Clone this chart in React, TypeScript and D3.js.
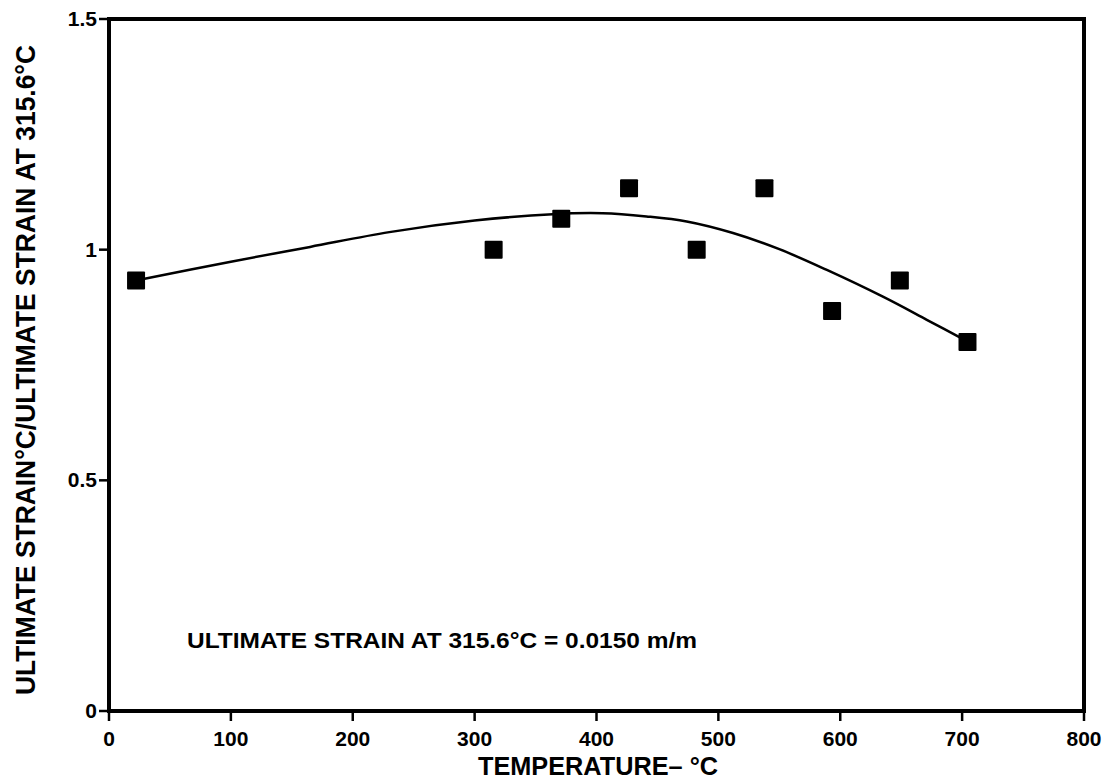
import React from "react";
import * as d3 from "d3";

const temps = [22.2, 315.6, 371.1, 426.7, 482.2, 537.8, 593.3, 648.9, 704.4];
const ratios = [0.933, 1.0, 1.067, 1.133, 1.0, 1.133, 0.867, 0.933, 0.8];

const fitX = [22, 100, 165, 230, 300, 364, 405, 441, 474, 512, 550, 589, 635, 671, 705];
const fitY = [0.933, 0.974, 1.006, 1.038, 1.063, 1.077, 1.079, 1.072, 1.061, 1.036, 1.001, 0.956, 0.898, 0.848, 0.8];

const xTicks = [0, 100, 200, 300, 400, 500, 600, 700, 800];
const yTicks = [0, 0.5, 1, 1.5];
const yTickLabels = ["0", "0.5", "1", "1.5"];

const font = "'Liberation Sans', Arial, sans-serif";

export default function App() {
  const W = 1113, H = 784;
  const x = d3.scaleLinear().domain([0, 800]).range([109, 1084]);
  const y = d3.scaleLinear().domain([0, 1.5]).range([711, 19]);
  const line = d3
    .line<[number, number]>()
    .x((d) => x(d[0]))
    .y((d) => y(d[1]))
    .curve(d3.curveCatmullRom.alpha(0.5));
  const fitPts: [number, number][] = fitX.map((v, i) => [v, fitY[i]]);
  const sq = 18;
  return (
    <svg width={W} height={H} style={{ position: "absolute", left: 0, top: 0, background: "#fff" }}>
      <rect x={0} y={0} width={W} height={H} fill="#fff" />
      {/* frame */}
      <rect x={x(0)} y={y(1.5)} width={x(800) - x(0)} height={y(0) - y(1.5)} fill="none" stroke="#000" strokeWidth={4} />
      {/* x ticks */}
      {xTicks.map((t) => (
        <g key={"x" + t}>
          <line x1={x(t)} x2={x(t)} y1={y(0)} y2={y(0) + 10} stroke="#000" strokeWidth={2.5} />
          <text x={x(t)} y={y(0) + 35} textAnchor="middle" fontFamily={font} fontWeight="bold" fontSize={21} fill="#000">
            {t}
          </text>
        </g>
      ))}
      {/* y ticks */}
      {yTicks.map((t, i) => (
        <g key={"y" + t}>
          <line x1={x(0) - 10} x2={x(0)} y1={y(t)} y2={y(t)} stroke="#000" strokeWidth={2.5} />
          <text x={x(0) - 12} y={y(t) + 7} textAnchor="end" fontFamily={font} fontWeight="bold" fontSize={21} fill="#000">
            {yTickLabels[i]}
          </text>
        </g>
      ))}
      {/* fit curve */}
      <path d={line(fitPts) || ""} fill="none" stroke="#000" strokeWidth={2.5} />
      {/* data */}
      {temps.map((t, i) => (
        <rect key={"p" + i} x={x(t) - sq / 2} y={y(ratios[i]) - sq / 2} width={sq} height={sq} fill="#000" rx={1} />
      ))}
      {/* annotation */}
      <text x={187} y={648} fontFamily={font} fontWeight="bold" fontSize={22} fill="#000" textLength={510} lengthAdjust="spacingAndGlyphs">
        ULTIMATE STRAIN AT 315.6°C = 0.0150 m/m
      </text>
      {/* x title */}
      <text x={478} y={775} fontFamily={font} fontWeight="bold" fontSize={26} fill="#000" textLength={240} lengthAdjust="spacingAndGlyphs">
        TEMPERATURE– °C
      </text>
      {/* y title */}
      <text
        transform={`translate(35,${(695 + 45) / 2}) rotate(-90)`}
        textAnchor="middle"
        fontFamily={font}
        fontWeight="bold"
        fontSize={27}
        fill="#000"
        textLength={650}
        lengthAdjust="spacingAndGlyphs"
      >
        ULTIMATE STRAIN°C/ULTIMATE STRAIN AT 315.6°C
      </text>
    </svg>
  );
}
